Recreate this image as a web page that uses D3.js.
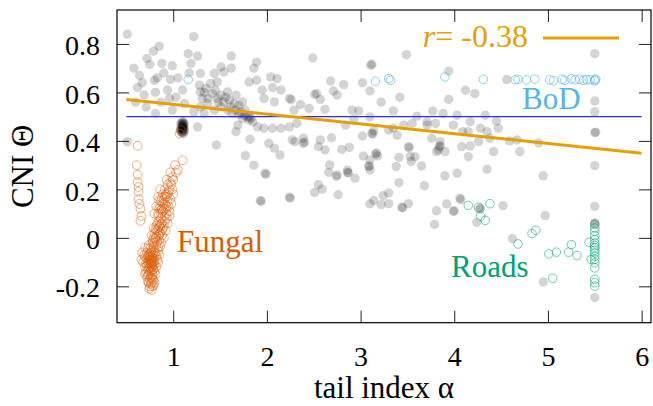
<!DOCTYPE html>
<html>
<head>
<meta charset="utf-8">
<script src="https://cdn.jsdelivr.net/npm/d3@7"></script>
<style>
  body { margin: 0; background: #fff; }
</style>
</head>
<body>
<svg id="chart" width="653" height="406"></svg>
<script>
const xTicks = [1, 2, 3, 4, 5, 6];
const yTicks = [-0.2, 0, 0.2, 0.4, 0.6, 0.8];

// grey: all networks (filled, translucent)
const greyPoints = [
  [0.51,0.84],[1.22,0.83],[0.85,0.79],[0.79,0.77],[0.72,0.74],[1.16,0.76],[1.26,0.75],[1.62,0.75],
  [0.75,0.715],[0.88,0.72],[0.99,0.71],[1.19,0.72],[1.51,0.705],[1.62,0.70],[1.89,0.725],[1.86,0.70],
  [0.64,0.67],[0.80,0.65],[0.83,0.66],[0.97,0.654],[1.29,0.678],[1.44,0.678],[1.54,0.684],[0.62,0.62],
  [0.69,0.59],[0.81,0.60],[0.94,0.61],[1.10,0.61],[1.81,0.643],[1.89,0.65],[1.95,0.61],[2.04,0.664],
  [2.11,0.657],[2.06,0.62],[2.15,0.61],[2.24,0.575],[2.08,0.561],[1.97,0.575],[0.71,0.54],[0.81,0.513],
  [0.99,0.527],[0.96,0.575],[1.12,0.554],[1.22,0.52],[1.26,0.458],[0.51,0.397],[1.46,0.383],[1.67,0.438],
  [1.82,0.407],[1.77,0.339],[1.86,0.30],[2.02,0.39],[2.08,0.37],[2.14,0.342],[1.90,0.458],[1.97,0.452],
  [2.06,0.452],[2.15,0.452],[2.24,0.458],[2.29,0.527],[2.27,0.404],[1.69,0.465],
  [0.58,0.70],[0.67,0.64],[0.90,0.68],[1.05,0.66],[0.87,0.56],[1.03,0.58],[0.60,0.56],[1.17,0.68],
  // dense arc
  [1.28,0.63],[1.29,0.602],[1.31,0.575],[1.35,0.616],[1.40,0.637],[1.42,0.595],[1.45,0.609],[1.47,0.575],
  [1.51,0.589],[1.54,0.561],[1.58,0.602],[1.60,0.568],[1.61,0.54],[1.65,0.554],[1.67,0.527],[1.70,0.547],
  [1.72,0.52],[1.74,0.561],[1.76,0.506],[1.79,0.499],[1.81,0.486],[1.83,0.493],[1.85,0.479],[1.77,0.527],
  [1.58,0.527],[1.51,0.54],[1.37,0.554],[1.29,0.54],[1.33,0.513],[1.44,0.527],[1.67,0.589],[1.47,0.643],
  [1.37,0.575],[1.63,0.513],[1.74,0.492],[1.33,0.60],[1.48,0.56],[1.56,0.58],[1.70,0.51],[1.81,0.50],
  // black blob
  [1.08,0.47],[1.10,0.48],[1.12,0.47],[1.09,0.46],[1.11,0.455],[1.08,0.45],[1.10,0.445],[1.12,0.45],
  [1.09,0.435],[1.11,0.43],[1.10,0.465],[1.08,0.44],[1.12,0.44],[1.10,0.455],
  [1.09,0.475],[1.11,0.475],[1.09,0.45],[1.11,0.445],[1.10,0.435],[1.10,0.47],[1.09,0.44],[1.11,0.465],
  [1.10,0.45],[1.10,0.46],
  // middle
  [2.49,0.742],[3.49,0.756],[3.11,0.712],[3.12,0.716],[2.68,0.647],[2.82,0.632],[2.71,0.606],[2.75,0.589],
  [2.51,0.592],[2.53,0.595],[2.57,0.571],[3.10,0.606],[2.45,0.534],[2.32,0.472],[2.30,0.397],[2.39,0.411],
  [2.91,0.527],[2.98,0.524],[3.35,0.524],[3.10,0.499],[3.60,0.502],[2.84,0.465],[3.02,0.42],[3.12,0.431],
  [3.13,0.428],[3.14,0.442],[3.30,0.445],[3.35,0.452],[3.39,0.424],[3.46,0.465],[3.55,0.472],[3.71,0.465],
  [3.76,0.411],[3.84,0.376],[3.85,0.38],[2.39,0.39],[2.40,0.395],[2.57,0.404],[2.69,0.413],[2.55,0.376],
  [2.62,0.363],[2.80,0.365],[2.88,0.373],[3.03,0.338],[3.10,0.321],[3.16,0.346],[3.17,0.35],[3.18,0.338],
  [3.41,0.332],[3.51,0.376],[3.52,0.372],[3.53,0.335],[3.58,0.335],[2.67,0.301],[2.86,0.28],[3.09,0.297],
  [3.65,0.297],[3.81,0.356],[3.90,0.356],[4.09,0.438],[1.98,0.267],[2.75,0.26],
  [2.26,0.57],[2.36,0.55],[2.62,0.53],[2.93,0.49],[3.22,0.56],[3.02,0.64],[3.42,0.58],
  // lower middle
  [2.66,0.27],[2.74,0.253],[2.86,0.27],[2.87,0.268],[2.94,0.246],[2.55,0.219],[2.59,0.201],[2.51,0.187],
  [2.76,0.178],[2.25,0.164],[3.09,0.294],[3.10,0.28],[3.38,0.294],[3.54,0.315],[3.41,0.228],[3.68,0.215],
  [3.90,0.256],[4.03,0.267],[3.30,0.185],[3.24,0.174],[3.14,0.154],[3.10,0.14],[3.22,0.137],[3.30,0.141],
  [3.44,0.126],[3.45,0.124],[3.51,0.141],[3.81,0.112],[3.92,0.14],[3.99,0.109],[4.00,0.112],[4.07,0.157],
  [3.79,0.055],[1.99,0.262],[1.93,0.153],[1.94,0.151],[2.24,0.168],
  // right
  [3.94,0.688],[4.12,0.609],[4.22,0.595],[3.94,0.571],[3.77,0.523],[3.88,0.513],[4.03,0.506],[4.33,0.506],
  [4.45,0.482],[3.71,0.479],[3.80,0.472],[3.99,0.465],[4.17,0.479],[3.85,0.397],[3.83,0.363],[4.08,0.376],
  [4.17,0.379],[4.26,0.397],[4.35,0.438],[4.47,0.452],[4.28,0.452],[4.15,0.438],[4.38,0.411],[4.59,0.40],
  [4.67,0.404],[4.70,0.356],[4.90,0.392],[4.42,0.356],[4.15,0.335],[4.35,0.283],[4.56,0.653],[4.95,0.256],
  [4.06,0.164],[4.52,0.133],[4.27,0.119],[4.28,0.122],[4.24,0.064],[4.62,-0.003],[4.95,-0.182],[4.97,0.092],
  // column at 5.5
  [5.50,0.76],[5.50,0.565],[5.50,0.52],[5.50,0.434],[5.51,0.436],[5.50,0.298],[5.50,0.13],[5.50,0.062],
  [5.50,0.058],[5.50,-0.246]
];

const fungalPoints = [
  [0.62,0.38],[0.61,0.30],[0.62,0.26],[0.62,0.23],[0.63,0.21],[0.63,0.19],[0.63,0.16],[0.64,0.14],
  [0.65,0.12],[0.66,0.09],[0.65,0.07],
  [1.10,0.32],[1.02,0.30],[1.03,0.27],[0.99,0.25],[0.97,0.23],[0.94,0.22],[0.91,0.20],[0.95,0.19],
  [0.99,0.20],[0.89,0.18],[0.93,0.17],[0.97,0.16],[0.87,0.15],[0.91,0.14],[0.95,0.13],[0.85,0.12],
  [0.89,0.11],[0.93,0.10],[0.96,0.09],[0.84,0.09],[0.87,0.08],[0.91,0.07],[0.94,0.06],[0.82,0.05],
  [0.86,0.045],[0.89,0.04],[0.92,0.03],[0.80,0.02],[0.84,0.015],[0.88,0.01],[0.81,-0.005],[0.85,-0.01],
  [0.78,-0.02],[0.82,-0.03],[0.86,-0.035],[0.76,-0.04],[0.80,-0.05],[0.84,-0.055],[0.72,-0.06],
  [0.75,-0.065],[0.78,-0.07],[0.82,-0.075],[0.70,-0.08],[0.74,-0.09],[0.77,-0.09],[0.80,-0.095],
  [0.84,-0.10],[0.71,-0.105],[0.75,-0.11],[0.78,-0.115],[0.82,-0.12],[0.73,-0.13],[0.76,-0.135],
  [0.80,-0.14],[0.74,-0.15],[0.78,-0.155],[0.75,-0.17],[0.79,-0.175],[0.76,-0.19],[0.78,-0.20],
  [0.745,-0.21],[0.77,-0.08],[0.76,-0.10],[0.79,-0.06],[0.77,-0.12],[0.81,0.0],[0.88,0.12],[0.90,0.16],
  [0.83,0.03],[1.08,0.445],[1.07,0.43],
  [0.86,0.20],[0.98,0.22],[1.00,0.18],[0.84,0.17],[0.96,0.11],[0.98,0.14],[0.82,0.13],[0.80,0.10],
  [0.83,0.06],[0.90,0.05],[0.93,0.08],[0.79,0.04],[0.77,0.01],[0.86,0.02],[0.90,0.0],[0.83,-0.015],
  [0.87,-0.02],[0.74,-0.03],[0.79,-0.035],[0.73,-0.045],[0.81,-0.06],[0.85,-0.07],[0.69,-0.07],
  [0.72,-0.085],[0.79,-0.085],[0.83,-0.09],[0.68,-0.10],[0.73,-0.10],[0.80,-0.11],[0.70,-0.12],
  [0.74,-0.125],[0.79,-0.13],[0.71,-0.14],[0.77,-0.145],[0.81,-0.15],[0.72,-0.16],[0.77,-0.165],
  [0.73,-0.18],[0.80,-0.185],[0.75,-0.20],[0.77,-0.215],[0.76,-0.06],[0.75,-0.08],[0.76,-0.095],
  [0.77,-0.105],[0.75,-0.12],[0.78,-0.085],[0.78,-0.10],[0.88,0.06],[0.87,0.10],[0.89,0.14],
  [0.85,0.07],[0.92,0.12],[0.94,0.15],[0.96,0.20],[1.05,0.28],[0.97,0.27],[1.00,0.24],[0.93,0.24],
  [0.92,0.18],
  [0.85,0.155],[0.88,0.165],[0.91,0.17],[0.94,0.18],[0.86,0.13],[0.90,0.12],[0.93,0.13],[0.84,0.10],
  [0.87,0.115],[0.91,0.09],[0.85,0.05],[0.88,0.03],[0.81,0.035],[0.84,0.04],[0.87,0.055],[0.79,0.0],
  [0.82,0.005],[0.85,0.01],[0.78,-0.01],[0.80,-0.02],[0.84,-0.04],[0.77,-0.05],[0.74,-0.07],
  [0.76,-0.075],[0.80,-0.075],[0.73,-0.075],[0.75,-0.09],[0.79,-0.10],[0.74,-0.105],[0.77,-0.11],
  [0.72,-0.115],[0.76,-0.125],[0.78,-0.13],[0.75,-0.14],[0.73,-0.155],[0.76,-0.16],[0.78,-0.17],
  [0.74,-0.185],[0.77,-0.185],[0.79,-0.195],[0.66,-0.09],[0.67,-0.06],[0.70,-0.04],[0.70,-0.15]
];

const bodPoints = [
  [1.16,0.653],[3.16,0.646],[3.30,0.657],[3.32,0.65],[3.90,0.664],[4.31,0.654],[4.65,0.652],[4.68,0.654],
  [4.77,0.652],[4.86,0.655],[5.02,0.652],[5.06,0.648],[5.15,0.654],[5.18,0.65],[5.25,0.656],[5.29,0.652],
  [5.34,0.654],[5.38,0.65],[5.41,0.653],[5.45,0.652],[5.50,0.652],[5.50,0.648],[5.51,0.655]
];

const roadsPoints = [
  [4.15,0.134],[4.26,0.126],[4.38,0.141],[4.28,0.089],[4.33,0.072],[4.68,-0.025],[4.83,0.018],[4.87,0.031],
  [5.01,-0.066],[5.09,-0.059],[5.22,-0.059],[5.25,-0.028],[5.31,-0.073],[5.05,-0.167],[5.44,-0.018],
  [5.46,-0.089],
  [5.50,0.055],[5.50,0.041],[5.50,0.027],[5.50,0.009],[5.50,-0.007],[5.50,-0.021],[5.50,-0.032],
  [5.50,-0.041],[5.50,-0.051],[5.50,-0.062],[5.50,-0.076],[5.50,-0.089],[5.50,-0.103],[5.50,-0.124],
  [5.50,-0.171],[5.50,-0.185],[5.50,-0.199]
];

const fitLine = [[0.5, 0.571], [6.0, 0.349]];
const refLine = [[0.5, 0.5], [6.0, 0.5]];
const corrLabel = "-0.38";

const W = 653, H = 406;
const M = { left: 117, right: 651, top: 10, bottom: 322.7 };
const TICK = 12;
const SERIF = '"Liberation Serif"';

const x = d3.scaleLinear().domain([0.4, 6.1]).range([M.left, M.right]);
const y = d3.scaleLinear().domain([-0.35, 0.94]).range([M.bottom, M.top]);

const svg = d3.select("#chart");
svg.append("rect").attr("width", W).attr("height", H).attr("fill", "#fff");

const fmtY = d => d === 0 ? "0" : d.toFixed(1);

// axes with inward ticks
const gx = svg.append("g")
  .attr("transform", `translate(0,${M.bottom})`)
  .call(d3.axisBottom(x).tickValues(xTicks).tickSize(-TICK).tickFormat(d3.format("d")));
gx.selectAll("text").attr("y", 43).attr("dy", null);

const gy = svg.append("g")
  .attr("transform", `translate(${M.left},0)`)
  .call(d3.axisLeft(y).tickValues(yTicks).tickSize(-TICK).tickFormat(fmtY));
gy.selectAll("text").attr("x", -17).attr("dy", "0.38em");

svg.append("g")
  .attr("transform", `translate(0,${M.top})`)
  .call(d3.axisTop(x).tickValues(xTicks).tickSize(-TICK).tickFormat(""));
svg.append("g")
  .attr("transform", `translate(${M.right},0)`)
  .call(d3.axisRight(y).tickValues(yTicks).tickSize(-TICK).tickFormat(""));

svg.selectAll(".domain").remove();
svg.selectAll(".tick line").attr("stroke", "#222").attr("stroke-width", 1);
svg.selectAll(".tick text")
  .attr("fill", "#000")
  .style("font-family", SERIF)
  .style("font-size", "28px");

// points
const plot = svg.append("g");

plot.append("g")
  .selectAll("circle")
  .data(greyPoints)
  .join("circle")
  .attr("cx", d => x(d[0]))
  .attr("cy", d => y(d[1]))
  .attr("r", 4.7)
  .attr("fill", "#000")
  .attr("fill-opacity", 0.17);

plot.append("g")
  .selectAll("circle")
  .data(fungalPoints)
  .join("circle")
  .attr("cx", d => x(d[0]))
  .attr("cy", d => y(d[1]))
  .attr("r", 4.4)
  .attr("fill", "none")
  .attr("stroke", "#D95F0E")
  .attr("stroke-opacity", 0.5)
  .attr("stroke-width", 1);

plot.append("g")
  .selectAll("circle")
  .data(bodPoints)
  .join("circle")
  .attr("cx", d => x(d[0]))
  .attr("cy", d => y(d[1]))
  .attr("r", 4.3)
  .attr("fill", "none")
  .attr("stroke", "#56B4E9")
  .attr("stroke-opacity", 0.65)
  .attr("stroke-width", 1);

plot.append("g")
  .selectAll("circle")
  .data(roadsPoints)
  .join("circle")
  .attr("cx", d => x(d[0]))
  .attr("cy", d => y(d[1]))
  .attr("r", 4.3)
  .attr("fill", "none")
  .attr("stroke", "#009E73")
  .attr("stroke-opacity", 0.55)
  .attr("stroke-width", 1);

const line = d3.line().x(d => x(d[0])).y(d => y(d[1]));

svg.append("path")
  .attr("d", line(refLine))
  .attr("stroke", "#2a2aff")
  .attr("stroke-width", 1.2)
  .attr("fill", "none");

svg.append("path")
  .attr("d", line(fitLine))
  .attr("stroke", "#E69F00")
  .attr("stroke-width", 3)
  .attr("fill", "none");

// frame
svg.append("rect")
  .attr("x", M.left).attr("y", M.top)
  .attr("width", M.right - M.left).attr("height", M.bottom - M.top)
  .attr("fill", "none").attr("stroke", "#000").attr("stroke-width", 1.2);

// legend
const leg = svg.append("text")
  .attr("x", 528).attr("y", 47)
  .attr("text-anchor", "end")
  .attr("fill", "#E69F00")
  .style("font-family", SERIF)
  .style("font-size", "32px");
leg.append("tspan").attr("font-style", "italic").text("r");
leg.append("tspan").text("= " + corrLabel);

svg.append("line")
  .attr("x1", 543).attr("x2", 619)
  .attr("y1", 38).attr("y2", 38)
  .attr("stroke", "#E69F00").attr("stroke-width", 3);

// group labels
const labels = [
  { text: "Fungal", x: 177, y: 252, color: "#D55E00" },
  { text: "BoD", x: 522, y: 109, color: "#56B4E9" },
  { text: "Roads", x: 451, y: 277, color: "#009E73" }
];
svg.append("g")
  .selectAll("text")
  .data(labels)
  .join("text")
  .attr("x", d => d.x)
  .attr("y", d => d.y)
  .attr("fill", d => d.color)
  .style("font-family", SERIF)
  .style("font-size", "31px")
  .text(d => d.text);

// axis titles
svg.append("text")
  .attr("x", (M.left + M.right) / 2)
  .attr("y", 398)
  .attr("text-anchor", "middle")
  .style("font-family", SERIF)
  .style("font-size", "31px")
  .text("tail index α");

svg.append("text")
  .attr("transform", `translate(33,${(M.top + M.bottom) / 2}) rotate(-90)`)
  .attr("text-anchor", "middle")
  .style("font-family", SERIF)
  .style("font-size", "31px")
  .text("CNI Θ");
</script>
</body>
</html>
